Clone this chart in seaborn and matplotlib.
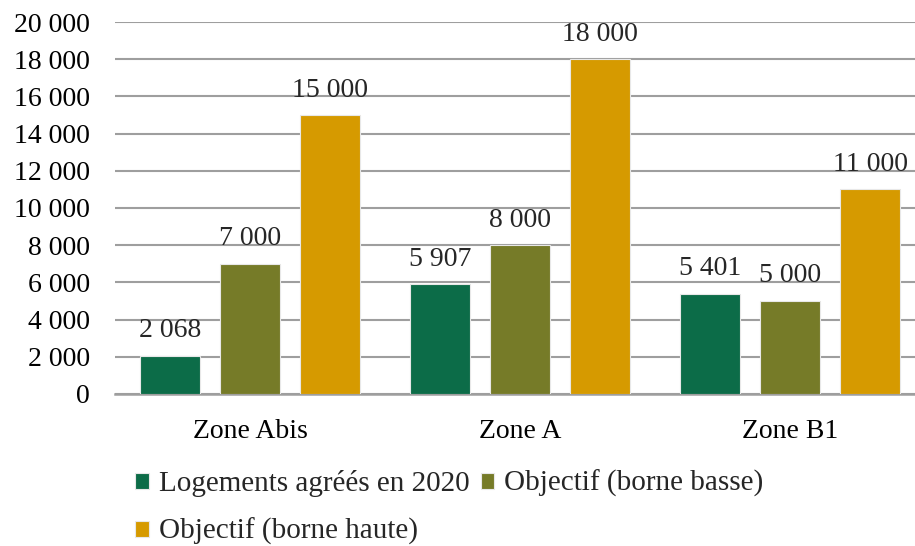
"""
Logements agréés en 2020 vs objectifs, par zone.
"""
import matplotlib
matplotlib.use("Agg")
import matplotlib.pyplot as plt
import matplotlib.ticker as mticker
import seaborn as sns
import pandas as pd

zones = ["Zone Abis", "Zone A", "Zone B1"]
series = ["Logements agréés en 2020", "Objectif (borne basse)", "Objectif (borne haute)"]
agrees_2020 = [2068, 5907, 5401]
borne_basse = [7000, 8000, 5000]
borne_haute = [15000, 18000, 11000]
colors = ["#0C6C48", "#767B28", "#D69A00"]

sns.set_style("white")
plt.rcParams['font.family'] = ['Liberation Serif', 'DejaVu Serif']
plt.rcParams['font.size'] = 20


def fmt(v):
    return f"{v:,.0f}".replace(",", " ")


df = pd.DataFrame({
    "zone": zones * 3,
    "serie": [s for s in series for _ in zones],
    "valeur": agrees_2020 + borne_basse + borne_haute,
})

fig = plt.figure(figsize=(9.15, 5.46), dpi=100)
ax = fig.add_axes([0.1257, 0.2784, 0.8743, 0.6813])

sns.barplot(data=df, x="zone", y="valeur", hue="serie", hue_order=series,
            palette=colors, width=0.889, gap=0.25, saturation=1,
            edgecolor="#E8E8E8", linewidth=0.8, ax=ax, zorder=3)

for cont in ax.containers:
    ax.bar_label(cont, labels=[fmt(b.get_height()) for b in cont],
                 padding=9, fontsize=20)

ax.set_ylim(0, 20000)
ax.set_xlim(-0.5, 2.463)
ax.yaxis.set_major_locator(mticker.MultipleLocator(2000))
ax.yaxis.set_major_formatter(mticker.FuncFormatter(lambda x, p: fmt(x)))
ax.grid(axis="y", color="#9E9E9E", linewidth=1.5, zorder=0)
ax.set_axisbelow(True)
for s in ["top", "right", "left"]:
    ax.spines[s].set_visible(False)
ax.spines["bottom"].set_color("#9E9E9E")
ax.spines["bottom"].set_linewidth(1.8)
ax.tick_params(axis="both", length=0, labelsize=20, colors="black")
ax.tick_params(axis="x", pad=18)
ax.tick_params(axis="y", pad=18)
ax.set_xlabel("")
ax.set_ylabel("")

handles, labels = ax.get_legend_handles_labels()
ax.get_legend().remove()
order = [0, 2, 1]
fig.legend([handles[i] for i in order], [labels[i] for i in order],
           ncol=2, loc="upper left", bbox_to_anchor=(0.148, 0.139),
           frameon=False, fontsize=21, handlelength=0.45, handleheight=0.45,
           handletextpad=0.35, columnspacing=0.4, labelspacing=0.72,
           borderpad=0, borderaxespad=0)

fig.savefig("out.png", dpi=100)
